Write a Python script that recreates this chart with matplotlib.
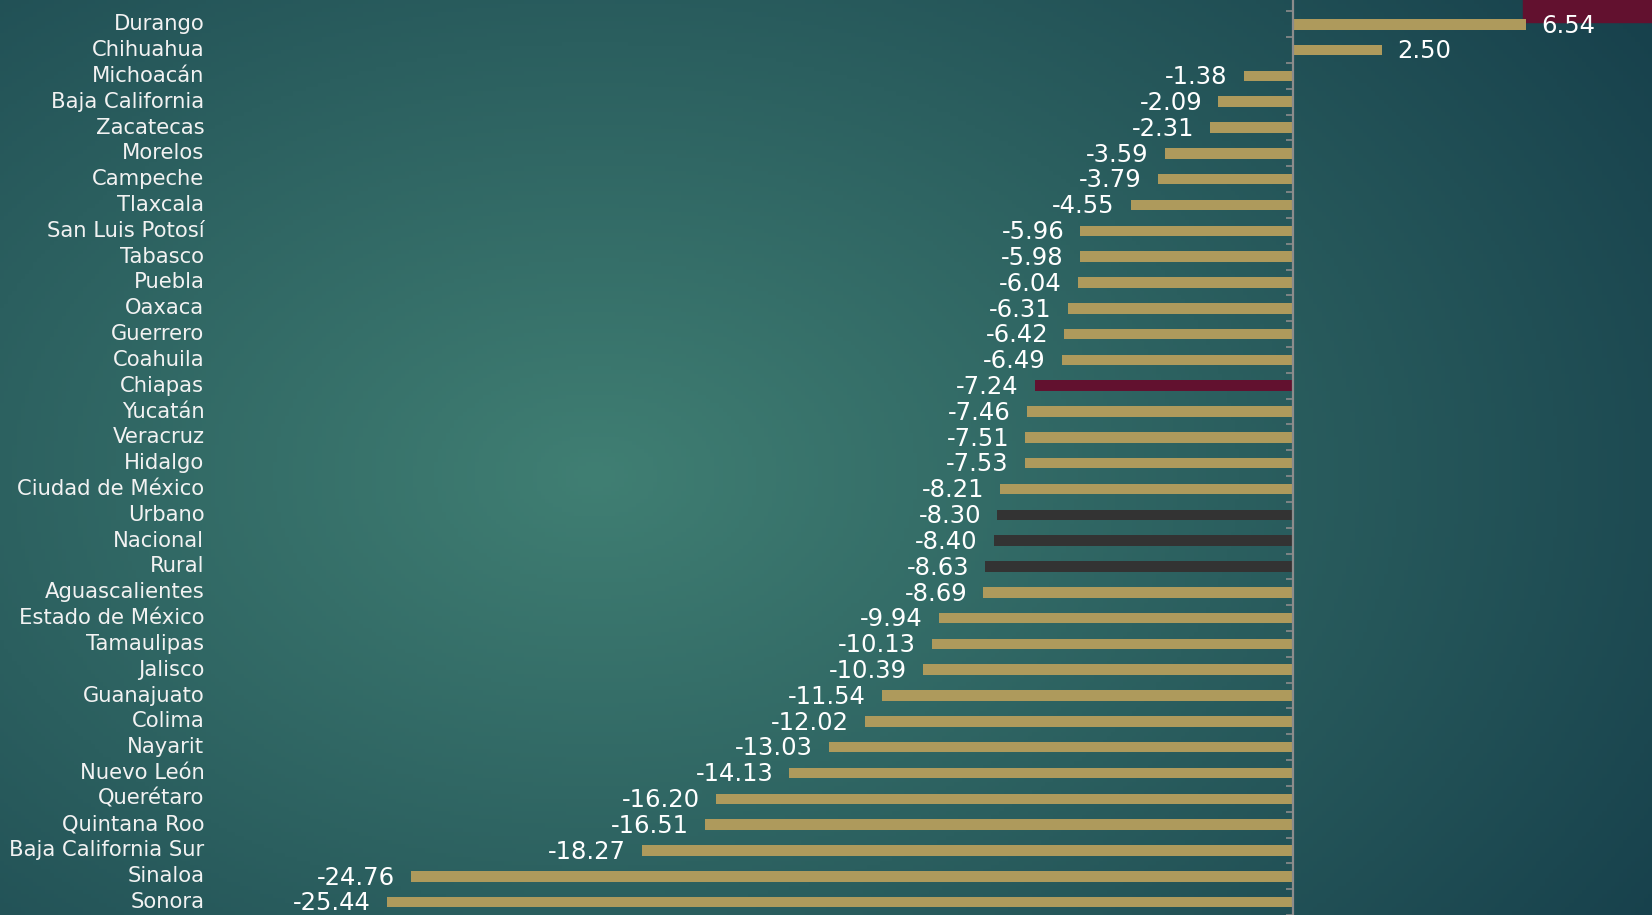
import numpy as np
import matplotlib
matplotlib.use('Agg')
import matplotlib.pyplot as plt
from matplotlib.patches import Rectangle
import matplotlib.transforms as mtransforms

estados = ['Durango', 'Chihuahua', 'Michoacán', 'Baja California', 'Zacatecas', 'Morelos',
           'Campeche', 'Tlaxcala', 'San Luis Potosí', 'Tabasco', 'Puebla', 'Oaxaca',
           'Guerrero', 'Coahuila', 'Chiapas', 'Yucatán', 'Veracruz', 'Hidalgo',
           'Ciudad de México', 'Urbano', 'Nacional', 'Rural', 'Aguascalientes',
           'Estado de México', 'Tamaulipas', 'Jalisco', 'Guanajuato', 'Colima', 'Nayarit',
           'Nuevo León', 'Querétaro', 'Quintana Roo', 'Baja California Sur', 'Sinaloa', 'Sonora']
valores = [6.54, 2.50, -1.38, -2.09, -2.31, -3.59, -3.79, -4.55, -5.96, -5.98, -6.04, -6.31,
           -6.42, -6.49, -7.24, -7.46, -7.51, -7.53, -8.21, -8.30, -8.40, -8.63, -8.69,
           -9.94, -10.13, -10.39, -11.54, -12.02, -13.03, -14.13, -16.20, -16.51, -18.27,
           -24.76, -25.44]

gold = '#ae9a5c'
maroon = '#62112f'
dark = '#333333'
colores = []
for e in estados:
    if e == 'Chiapas':
        colores.append(maroon)
    elif e in ('Urbano', 'Nacional', 'Rural'):
        colores.append(dark)
    else:
        colores.append(gold)

plt.rcParams['font.family'] = ['DejaVu Sans']

fig = plt.figure(figsize=(16.52, 9.15), dpi=100)

# fondo con degradado radial
bg = fig.add_axes([0, 0, 1, 1])
xx, yy = np.meshgrid(np.linspace(0, 1, 400), np.linspace(0, 1, 220))
r = np.sqrt(((xx - 0.36) / 0.78) ** 2 + ((yy - 0.52) / 0.95) ** 2)
r = np.clip(r, 0, 1)
c0 = np.array([0x40, 0x7f, 0x73]) / 255
c1 = np.array([0x16, 0x3f, 0x4b]) / 255
img = c0[None, None, :] * (1 - r[..., None]) + c1[None, None, :] * r[..., None]
bg.imshow(img, aspect='auto', extent=[0, 1, 0, 1], origin='upper')
# recuadro decorativo (debajo de las etiquetas)
bg.add_patch(Rectangle((0.922, 0.976), 0.08, 0.03, color=maroon, zorder=2))
bg.set_xlim(0, 1)
bg.set_ylim(0, 1)
bg.set_axis_off()

ax = fig.add_axes([0, 0, 1, 1])
ax.patch.set_alpha(0)
y = np.arange(len(estados))
ax.barh(y, valores, height=0.41, color=colores, zorder=3)
ax.set_xlim(-36.3, 10.09)
ax.set_ylim(len(estados) - 1 + 0.34, -0.94)

for s in ['top', 'right', 'bottom']:
    ax.spines[s].set_visible(False)
ax.spines['left'].set_position(('data', 0))
ax.spines['left'].set_color('#8c8c8c')
ax.spines['left'].set_linewidth(1.6)
ax.spines['left'].set_zorder(4)
ax.set_xticks([])
ax.set_yticks(np.arange(-0.5, len(estados), 1))
ax.set_yticklabels([])
ax.tick_params(axis='y', direction='out', length=5, width=1.2, color='#8c8c8c')

trans = mtransforms.blended_transform_factory(ax.transAxes, ax.transData)
for i, (e, v) in enumerate(zip(estados, valores)):
    ax.text(0.1237, i, e, transform=trans, ha='right', va='center',
            fontsize=15.2, color='#f2f2f2')
    off = 0.45
    if v >= 0:
        ax.text(v + off, i + 0.05, f'{v:.2f}', ha='left', va='center', fontsize=17.5,
                color='white', zorder=5)
    else:
        ax.text(v - off, i + 0.05, f'{v:.2f}', ha='right', va='center', fontsize=17.5,
                color='white', zorder=5)

fig.savefig('out.png', dpi=100)
